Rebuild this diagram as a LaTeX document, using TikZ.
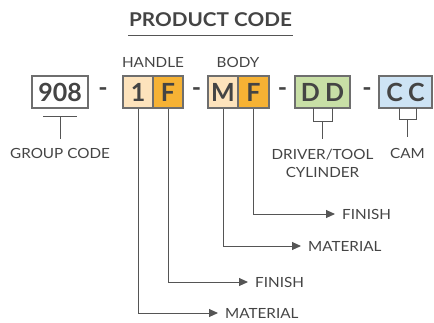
\documentclass[tikz,border=0pt]{standalone}
\usepackage{fontspec}
\setmainfont[FakeStretch=1.09]{Lato}
\newfontfamily\boxfont{Lato}
\usetikzlibrary{arrows.meta}
\definecolor{txt}{HTML}{444444}
\definecolor{ln}{HTML}{555555}
\definecolor{peach}{HTML}{FDE3BC}
\definecolor{orng}{HTML}{F6B234}
\definecolor{grn}{HTML}{C8DFA6}
\definecolor{blu}{HTML}{CDE3F4}
\begin{document}
\begin{tikzpicture}[x=1pt,y=-1pt,
  box/.style={draw=ln!85, line width=1.1pt, minimum height=32pt, inner sep=0pt, text=txt, font=\boxfont\fontsize{25}{25}\selectfont\bfseries},
  lbl/.style={text=txt, inner sep=0pt, font=\fontsize{14}{14}\selectfont},
  sep/.style={text=txt, font=\boxfont\fontsize{25}{25}\selectfont\bfseries, inner sep=0pt},
  conn/.style={draw=ln, line width=1pt},
  arr/.style={conn, -{Triangle[length=9pt,width=8pt]}, shorten >=7pt}]
\useasboundingbox (0,0) rectangle (434,322);
% title
\node[text=txt, font=\fontsize{19}{19}\selectfont\bfseries, inner sep=0pt] (title) at (210.5,20) {PRODUCT CODE};
\coordinate (ul1) at (128,35);
\coordinate (ul2) at (293,35);
\draw[conn] (ul1) -- (ul2);
% group labels
\node[lbl] (handle) at (153,62) {HANDLE};
\node[lbl] (body) at (238,62) {BODY};
% boxes
\node[box, fill=white, minimum width=56pt] (g) at (60,92) {908};
\node[box, fill=peach, minimum width=30pt] (h1) at (138,92) {1};
\node[box, fill=orng, minimum width=30pt] (h2) at (168,92) {F};
\node[box, fill=peach, minimum width=30pt] (b1) at (223,92) {M};
\node[box, fill=orng, minimum width=31pt] (b2) at (253.5,92) {F};
\node[box, fill=grn, minimum width=55pt] (dd) at (322.5,92) {D\hspace{5pt}D};
\node[box, fill=blu, minimum width=53pt] (cc) at (405.5,92) {C\hspace{5pt}C};
% separators
\node[sep] (s1) at (103,92) {-};
\node[sep] (s2) at (196.5,92) {-};
\node[sep] (s3) at (282.5,92) {-};
\node[sep] (s4) at (367,92) {-};
% group code bracket
\node[lbl] (gc) at (60,153) {GROUP CODE};
\coordinate (gl) at (43,116);
\coordinate (gr) at (77,116);
\coordinate (gm) at (60,116);
\draw[conn] (gl) -- (gr);
\draw[conn] (gm) -- (60,139);
% driver bracket
\node[lbl, align=center] (drv) at (322.5,163.5) {DRIVER/TOOL\\[4pt]CYLINDER};
\coordinate (dl) at (313,108);
\coordinate (dr) at (332,108);
\draw[conn] (dl) -- (313,121) -- (332,121) -- (dr);
\draw[conn] (322.5,121) -- (322.5,139);
% cam bracket
\node[lbl] (cam) at (407.5,153) {CAM};
\coordinate (cl) at (399,108);
\coordinate (cr) at (416,108);
\draw[conn] (cl) -- (399,119) -- (416,119) -- (cr);
\draw[conn] (407.5,119) -- (407.5,137);
% bottom labels
\node[lbl, anchor=west] (mat1) at (225,313) {MATERIAL};
\node[lbl, anchor=west] (fin1) at (255,282) {FINISH};
\node[lbl, anchor=west] (mat2) at (308,246) {MATERIAL};
\node[lbl, anchor=west] (fin2) at (342,214) {FINISH};
\draw[arr] (h1.south) |- (mat1.west);
\draw[arr] (h2.south) |- (fin1.west);
\draw[arr] (b1.south) |- (mat2.west);
\draw[arr] (b2.south) |- (fin2.west);
\end{tikzpicture}
\end{document}
